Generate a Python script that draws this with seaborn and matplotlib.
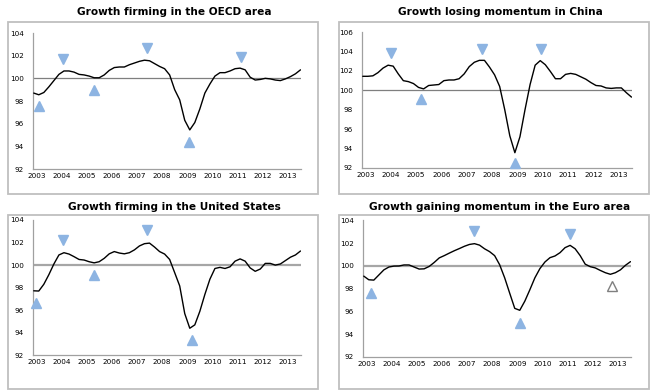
import numpy as np
import pandas as pd
import matplotlib
matplotlib.use("Agg")
import matplotlib.pyplot as plt
import seaborn as sns
from matplotlib.patches import Rectangle

# ---------------- data ----------------
dates = np.round(np.arange(2002.9, 2013.51, 0.2), 2)

oecd = [98.7, 98.55, 98.75, 99.25, 99.8, 100.35, 100.65, 100.65, 100.55, 100.35,
        100.3, 100.2, 100.05, 100.05, 100.3, 100.7, 100.95, 101.0, 101.0, 101.2,
        101.35, 101.5, 101.6, 101.55, 101.3, 101.05, 100.85, 100.3, 99.0, 98.1,
        96.3, 95.45, 96.1, 97.3, 98.7, 99.5, 100.2, 100.5, 100.5, 100.65,
        100.85, 100.9, 100.75, 100.1, 99.85, 99.9, 100.0, 99.95, 99.85, 99.8,
        99.95, 100.15, 100.4, 100.75]

china = [101.45, 101.45, 101.5, 101.83, 102.3, 102.6, 102.5, 101.7, 101.0, 100.9,
         100.7, 100.3, 100.15, 100.5, 100.55, 100.6, 101.0, 101.07, 101.07, 101.2,
         101.7, 102.45, 102.9, 103.1, 103.1, 102.4, 101.6, 100.4, 98.0, 95.3,
         93.55, 95.2, 98.0, 100.6, 102.6, 103.07, 102.65, 101.95, 101.2, 101.2,
         101.65, 101.75, 101.65, 101.4, 101.15, 100.8, 100.5, 100.45, 100.25, 100.2,
         100.25, 100.25, 99.75, 99.3]

usa = [97.72, 97.7, 98.3, 99.15, 100.1, 100.9, 101.1, 100.98, 100.75, 100.5,
       100.45, 100.3, 100.2, 100.3, 100.6, 101.0, 101.2, 101.07, 101.0, 101.1,
       101.35, 101.7, 101.9, 101.95, 101.6, 101.2, 100.98, 100.5, 99.33, 98.15,
       95.7, 94.4, 94.7, 95.9, 97.4, 98.75, 99.7, 99.8, 99.7, 99.85,
       100.35, 100.55, 100.35, 99.75, 99.45, 99.65, 100.15, 100.15, 100.0, 100.1,
       100.4, 100.7, 100.9, 101.25]

euro = [99.1, 98.78, 98.75, 99.2, 99.65, 99.9, 99.98, 99.99, 100.08, 100.08,
        99.9, 99.72, 99.74, 99.95, 100.3, 100.7, 100.9, 101.12, 101.33, 101.52,
        101.72, 101.88, 101.95, 101.82, 101.5, 101.25, 100.9, 100.1, 98.95, 97.6,
        96.27, 96.1, 96.9, 97.9, 98.95, 99.76, 100.34, 100.72, 100.87, 101.16,
        101.6, 101.8, 101.5, 100.9, 100.15, 99.93, 99.82, 99.6, 99.4, 99.26,
        99.4, 99.65, 100.05, 100.37]

# turning-point markers
oecd_up_x, oecd_up_y = [2003.11, 2005.29, 2009.07], [97.57, 98.98, 94.4]
oecd_dn_x, oecd_dn_y = [2004.06, 2007.42, 2011.12], [101.7, 102.67, 101.9]
china_up_x, china_up_y = [2005.21, 2008.89], [99.07, 92.45]
china_dn_x, china_dn_y = [2004.0, 2007.59, 2009.95], [103.83, 104.24, 104.24]
usa_up_x, usa_up_y = [2003.0, 2005.29, 2009.17], [96.61, 99.09, 93.33]
usa_dn_x, usa_dn_y = [2004.06, 2007.42], [102.2, 103.08]
euro_up_x, euro_up_y = [2003.2, 2009.11], [97.65, 95.02]
euro_dn_x, euro_dn_y = [2007.3, 2011.1], [103.06, 102.77]
euro_new_x, euro_new_y = [2012.75], [98.23]

years = list(range(2003, 2014))
titles = ["Growth firming in the OECD area",
          "Growth losing momentum in China",
          "Growth firming in the United States",
          "Growth gaining momentum in the Euro area"]

# ---------------- figure ----------------
sns.set_theme(style="white")
plt.rcParams["font.family"] = ["DejaVu Sans"]
W, H = 654, 392
fig = plt.figure(figsize=(W / 100, H / 100), dpi=100)
fig.patch.set_facecolor("white")

def fx(px):
    return px / W

def fy(py):
    return 1 - py / H

# boxes around each panel
for (x0, y0, x1, y1) in [(8, 22, 318, 194), (339, 22, 649, 194),
                         (8, 215, 318, 389), (339, 215, 649, 389)]:
    fig.patches.append(Rectangle((fx(x0), fy(y1)), fx(x1 - x0), (y1 - y0) / H,
                                 transform=fig.transFigure, fill=False,
                                 edgecolor="#BFBFBF", linewidth=1.3))

panels = [
    dict(rect=(33, 33, 301, 169), data=oecd, ylim=(92, 104), title=titles[0],
         tpos=(174, 12), up=(oecd_up_x, oecd_up_y), dn=(oecd_dn_x, oecd_dn_y),
         hl=("#7F7F7F", 0.9)),
    dict(rect=(362, 32.3, 632, 167.7), data=china, ylim=(92, 106), title=titles[1],
         tpos=(500, 12), up=(china_up_x, china_up_y), dn=(china_dn_x, china_dn_y),
         hl=("#7F7F7F", 0.9)),
    dict(rect=(33, 220, 301, 355.3), data=usa, ylim=(92, 104), title=titles[2],
         tpos=(174, 207), up=(usa_up_x, usa_up_y), dn=(usa_dn_x, usa_dn_y),
         hl=("#A6A6A6", 1.6)),
    dict(rect=(363, 220.3, 631, 357), data=euro, ylim=(92, 104), title=titles[3],
         tpos=(500, 207), up=(euro_up_x, euro_up_y), dn=(euro_dn_x, euro_dn_y),
         hl=("#A6A6A6", 1.6)),
]

tri_col = "#8DB4E2"

for i, p in enumerate(panels):
    x0, y0, x1, y1 = p["rect"]
    ax = fig.add_axes([fx(x0), fy(y1), fx(x1 - x0), (y1 - y0) / H])
    ax.set_facecolor("none")
    ax.axhline(100, color=p["hl"][0], lw=p["hl"][1], zorder=1)
    df = pd.DataFrame({"date": dates, "value": p["data"]})
    sns.lineplot(data=df, x="date", y="value", ax=ax, color="black",
                 linewidth=1.0, zorder=3)
    ax.plot(p["up"][0], p["up"][1], linestyle="none", marker="^", ms=7.5,
            color=tri_col, mec=tri_col, clip_on=False, zorder=4)
    ax.plot(p["dn"][0], p["dn"][1], linestyle="none", marker="v", ms=7.5,
            color=tri_col, mec=tri_col, clip_on=False, zorder=4)
    if i == 3:
        ax.plot(euro_new_x, euro_new_y, linestyle="none", marker="^", ms=7.5,
                mfc="white", mec="#7F7F7F", mew=1.0, clip_on=False, zorder=4)
    ax.set_xlim(2002.87, 2013.52)
    ax.set_ylim(*p["ylim"])
    ax.set_yticks(np.arange(p["ylim"][0], p["ylim"][1] + 1, 2))
    ax.set_xticks(years)
    ax.set_xticklabels([str(y) for y in years])
    ax.set_xlabel("")
    ax.set_ylabel("")
    for s in ["top", "right"]:
        ax.spines[s].set_visible(False)
    for s in ["left", "bottom"]:
        ax.spines[s].set_color("#A0A0A0")
        ax.spines[s].set_linewidth(0.9)
    ax.tick_params(axis="y", direction="out", length=2.5, width=0.8,
                   color="#A0A0A0", labelsize=5.2, pad=4, labelcolor="black")
    ax.tick_params(axis="x", direction="in", length=2.5, width=0.8,
                   color="#A0A0A0", labelsize=5.2, pad=3, labelcolor="black")
    ax.grid(False)
    fig.text(fx(p["tpos"][0]), fy(p["tpos"][1]), p["title"], ha="center",
             va="center", fontsize=7.6, fontweight="bold", color="black")

fig.savefig("out.png", dpi=100, facecolor="white")
